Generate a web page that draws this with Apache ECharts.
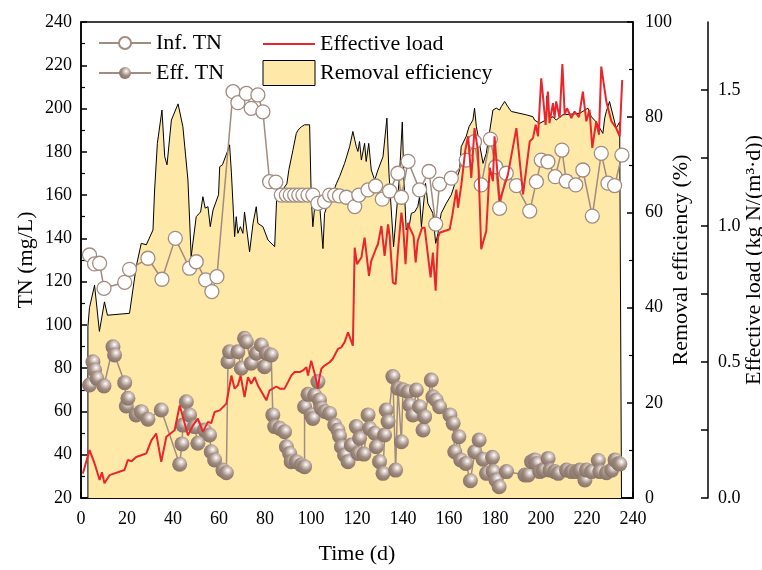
<!DOCTYPE html>
<html><head><meta charset="utf-8">
<script src="https://cdn.jsdelivr.net/npm/echarts@6/dist/echarts.min.js"></script>
<style>html,body{margin:0;padding:0;background:#fff}#c{width:762px;height:570px}</style>
</head><body><div id="c"></div>
<script>
// Influent TN (mg/L) [day, value]
const infTN = [[3.7,132.3],[5.9,128.2],[8.1,128.5],[10.0,116.9],[19.0,119.7],[21.1,125.7],[29.1,130.8],[35.2,121.1],[41.0,140],[47.2,126.2],[50.1,129.2],[54.2,120.8],[56.9,115.4],[59.1,122.3],[66.1,207.8],[68.2,202.7],[71.9,207.0],[74.0,200.1],[76.9,206.3],[79.1,198.5],[82.0,166.2],[84.7,166.0],[87.1,160],[89.3,160],[91.0,160],[92.9,160],[94.7,160],[96.5,160],[98.7,160],[100.8,160],[103.0,156.2],[105.9,157],[108.1,160],[110.3,160],[112.4,159.6],[115.4,159],[119.0,154.7],[120.8,160],[124.8,162.4],[128.1,164.2],[131.0,158.1],[134.2,161.9],[137.8,170.1],[139.3,159],[142.2,175.6],[147.2,162.4],[151.3,170.9],[154.2,146.6],[155.9,165.1],[161.0,167.8],[167.5,176.2],[171.1,184.7],[174.0,164.7],[178.0,185.9],[180.3,173.1],[182.0,153.9],[184.9,170.1],[189.3,164.4],[195.1,152.6],[198.0,166.2],[200.1,176.2],[203.0,175.4],[206.2,168.5],[209.1,180.8],[211.0,166.5],[215.1,164.7],[218.2,171.6],[222.3,150.3],[226.2,179.3],[229.1,165.5],[232.0,164.4],[235.2,178.5]];
// Effluent TN (mg/L)
const effTN = [[3.7,72.2],[5.2,83],[5.9,79.2],[6.9,75.3],[10.0,71.8],[13.9,89.9],[14.6,86.1],[19.0,73.3],[19.7,62.5],[20.4,66.1],[24.0,58.4],[26.2,59.9],[29.1,56.4],[34.9,60.7],[42.9,35.6],[43.9,45],[44.3,53.7],[45.8,64.5],[47.2,58.4],[49.4,53],[50.8,45.3],[53.7,51.4],[55.9,49.1],[56.6,41.4],[58.1,37.6],[61.7,32.9],[63.2,31.7],[63.9,83],[64.6,87.6],[68.2,87.6],[69.7,80],[71.1,93.8],[71.9,92.2],[74.0,82.3],[76.2,86.9],[78.4,90.7],[79.8,80.7],[80.6,86.9],[82.7,86.1],[83.4,58.4],[84.2,53],[86.4,52.2],[88.5,50.6],[89.3,43.7],[90.7,40.6],[91.4,36.8],[93.6,36.8],[95.8,35.3],[97.2,34.5],[97.2,62.2],[98.7,67.9],[100.1,58.4],[100.8,56.8],[101.6,67.6],[103.0,73.8],[103.7,65.3],[104.5,61.5],[106.0,60],[108.1,59.1],[110.3,53.7],[111.7,51.4],[112.4,48.7],[113.2,43.7],[114.6,39.9],[116.1,36.8],[117.5,44.5],[119.7,53],[120.4,40.6],[121.1,47.6],[123.0,40.3],[124.8,58.4],[125.5,52.2],[127.7,49.9],[128.4,43.7],[129.8,36.8],[131.3,31.4],[132.0,49.1],[132.7,60.7],[133.5,55.3],[135.6,76.1],[136.8,32.9],[137.8,70.7],[139.3,46],[140.0,70],[142.2,69.1],[142.9,63],[144.3,58.4],[145.8,69.9],[147.2,62.2],[148.7,51.4],[149.4,57.6],[152.3,74.5],[153.0,66.8],[154.4,65.3],[155.9,62.2],[160.4,58.4],[161.8,54.5],[162.5,41.4],[164.3,48.3],[165.1,37.6],[167.3,36],[169.3,28],[171.2,41.4],[173.1,46.8],[174.8,37.9],[176.3,31.4],[178.9,38.8],[179.2,32.2],[180.4,28.3],[181.8,25.2],[185.0,32.2],[193.0,30.6],[194.4,30.6],[195.9,36.8],[197.3,37.6],[198.1,36.0],[199.5,32.2],[201.0,32.9],[203.1,38.3],[203.9,32.9],[206.0,32.2],[207.5,31.4],[211.1,32.9],[213.3,32.2],[215.5,32.2],[216.9,32.9],[219.1,28.3],[219.8,32.9],[222.0,32.2],[224.9,37.3],[225.6,32.2],[228.5,31.7],[230.7,32.9],[232.2,37.6],[233.6,36],[234.3,35.7]];
// Removal efficiency (%)
const removal = [[3.0,0],[3.0,36],[3.7,40],[5.9,44.7],[8.0,35],[10.2,41.2],[11.5,38.4],[21.1,38.8],[24.0,48.6],[26.2,53.5],[28.4,53.2],[31.3,56.3],[32.0,64.7],[33.2,74.5],[35.2,81.5],[36.4,71.7],[37.4,70],[39.3,79.4],[40.0,79],[42.2,82.8],[44.3,78],[46.5,66.8],[47.9,50.7],[50.1,59.1],[52.0,60.1],[53.0,63.3],[54.0,60.9],[55.2,61.2],[56.2,57],[57.4,60.5],[59.8,63.7],[60.3,69.6],[61.5,70],[63.9,73.1],[64.6,74.2],[65.4,68.3],[66.8,54.9],[67.5,59.1],[68.2,55.6],[69.3,57],[70.4,55.6],[71.1,60.1],[73.3,51.7],[74.8,57.7],[76.2,61.2],[76.9,57.7],[79.1,57],[81.3,54.2],[84.2,52.8],[85.4,66.8],[86.5,64],[88.0,65],[89.5,66],[90.4,69],[92.1,73],[93.6,76.6],[94.4,77.3],[95.8,78],[97.2,78.4],[99.4,78.4],[100.1,63.3],[100.8,57],[101.6,61.2],[103.7,62],[105.2,52.4],[105.9,59.8],[107.5,62],[109.5,64],[111.0,66],[112.4,67.5],[114.6,70.3],[116.8,73.8],[118.2,77],[119.7,73.8],[120.4,72.8],[121.1,74.9],[121.9,71],[123.3,74.5],[124.0,70.7],[125.1,74.5],[126.2,68.9],[127.7,66.8],[129.1,68.9],[131.3,71.7],[133.0,79.8],[133.9,68.2],[135.9,52.8],[138.4,67.2],[139.7,79],[140.4,66.8],[141.4,56.3],[142.9,57.7],[143.6,59.8],[145.1,60.1],[146.4,61.2],[147.2,63.3],[148.0,57],[149.8,66.1],[150.8,61.9],[153.0,59.8],[154.2,53.5],[155.2,55.6],[156.6,59.8],[158.8,61.9],[161.0,63.7],[162.4,65.8],[164.6,68.9],[165.3,73.8],[167.5,76],[168.7,78],[170.4,79.4],[171.1,81.9],[171.9,78],[172.6,77.7],[174.8,70.3],[176.2,72.4],[179.1,81.5],[180.6,81.9],[182.0,81.5],[182.7,82.2],[184.2,83.3],[185.6,82.2],[187.1,81.2],[187.8,80.8],[193.6,80.5],[196.5,80.1],[197.2,79.4],[199.4,78.7],[202.4,79.5],[202.6,84.5],[203.0,82.9],[203.7,79.8],[205.2,80.1],[206.6,79.4],[209.5,80.5],[216.8,80.8],[220.4,81.9],[221.9,80.1],[224.0,79],[226.9,76.6],[227.7,79.8],[228.4,81.2],[229.8,83.3],[230.6,82.9],[232.0,79],[232.7,77.7],[234.2,79],[235.0,79.4],[235.0,0]];
// Effective load (kg N/(m3 d))
const load = [[0.8,0.09],[3.7,0.176],[5.9,0.127],[8.1,0.066],[9.1,0.095],[10.2,0.054],[12.4,0.084],[18.9,0.103],[20.4,0.14],[22.0,0.135],[24.0,0.151],[26.2,0.157],[28.4,0.164],[30.6,0.212],[32.7,0.237],[34.9,0.133],[37.1,0.225],[40.7,0.249],[42.9,0.34],[44.3,0.298],[46.5,0.231],[48.7,0.267],[50.8,0.292],[53.0,0.243],[55.2,0.28],[56.6,0.275],[58.1,0.316],[60.3,0.322],[63.2,0.347],[65.4,0.45],[66.8,0.402],[68.2,0.414],[69.4,0.45],[71.1,0.371],[72.6,0.444],[74.0,0.42],[75.5,0.444],[76.9,0.414],[80.6,0.359],[82.0,0.396],[83.4,0.402],[84.9,0.41],[86.4,0.402],[88.5,0.402],[90.0,0.426],[91.4,0.45],[92.9,0.463],[95.1,0.463],[96.5,0.469],[98.0,0.481],[98.7,0.45],[100.1,0.505],[100.8,0.505],[101.6,0.457],[103.0,0.402],[103.7,0.444],[104.5,0.475],[105.9,0.487],[108.1,0.499],[109.5,0.512],[111.7,0.548],[113.2,0.554],[114.6,0.573],[116.1,0.609],[118.2,0.56],[119.0,0.92],[120.0,0.86],[121.9,0.884],[123.3,0.957],[125.2,0.817],[126.2,0.872],[128.4,0.92],[129.1,0.933],[130.6,1.0],[132.0,0.89],[133.5,1.006],[134.2,0.963],[135.6,0.792],[136.8,0.786],[137.8,0.908],[139.3,1.049],[140.0,1.006],[141.1,0.86],[142.2,1.012],[142.9,0.994],[144.6,0.963],[145.5,0.866],[146.4,0.945],[148.3,0.994],[149.4,0.994],[152.0,0.811],[153.0,0.902],[154.2,0.762],[155.2,0.957],[155.9,0.975],[160.3,0.988],[161.4,1.037],[163.2,1.134],[163.9,1.067],[165.4,1.153],[167.1,1.28],[168.3,1.33],[169.7,1.177],[171.1,1.36],[172.6,1.275],[174.0,0.915],[176.2,0.982],[177.7,1.214],[179.1,1.165],[179.8,1.33],[182.0,1.092],[185.6,1.189],[189.3,1.36],[192.2,1.116],[195.1,1.311],[196.5,1.323],[197.7,1.372],[198.7,1.33],[200.1,1.543],[200.8,1.482],[202.0,1.372],[203.0,1.494],[203.7,1.378],[205.2,1.452],[205.9,1.397],[206.6,1.458],[208.1,1.397],[209.3,1.595],[210.3,1.409],[211.3,1.433],[213.2,1.397],[214.6,1.421],[216.5,1.40],[218.2,1.494],[219.7,1.385],[221.1,1.427],[222.3,1.287],[224.0,1.385],[225.2,1.336],[226.2,1.586],[228.4,1.458],[230.6,1.385],[232.7,1.36],[234.2,1.33],[235.3,1.537]];

const FONT = "'Liberation Serif','Times New Roman',serif";
const BROWN = '#a28b80';
const chart = echarts.init(document.getElementById('c'), null, {renderer:'canvas'});
const axisCommon = {
  axisLine:{show:true, onZero:false, lineStyle:{color:'#000', width:1.5}},
  axisTick:{show:true, inside:true, length:6, lineStyle:{color:'#000', width:1.5}},
  minorTick:{show:true, splitNumber:2, length:4, lineStyle:{color:'#000', width:1.2}},
  splitLine:{show:false},
  axisLabel:{color:'#000', fontSize:18, fontFamily:FONT},
  nameLocation:'middle',
  nameMoveOverlap:false,
  nameTextStyle:{color:'#000', fontSize:22, fontFamily:FONT}
};
const sphere = {type:'radial', x:0.6, y:0.35, r:0.7, colorStops:[
  {offset:0, color:'#ffffff'},{offset:0.2, color:'#ddd2cc'},{offset:0.55, color:'#a08b81'},{offset:1, color:'#846f65'}]};
chart.setOption({
  animation:false,
  backgroundColor:'#fff',
  grid:{left:81, right:129, top:22, bottom:72, outerBoundsMode:'none', containLabel:false,
        show:true, borderColor:'#000', borderWidth:1.5, backgroundColor:'rgba(0,0,0,0)'},
  legend:[
    {left:98, top:32, orient:'vertical', padding:0, itemWidth:52, itemHeight:15, itemGap:8,
     textStyle:{fontSize:22, fontFamily:FONT, color:'#000'},
     data:['Inf. TN','Eff. TN']},
    {left:262, top:33, orient:'vertical', padding:0, itemWidth:52, itemHeight:25, itemGap:5,
     textStyle:{fontSize:22, fontFamily:FONT, color:'#000'},
     data:[{name:'Effective load', itemStyle:{color:'rgba(0,0,0,0)', borderWidth:0, opacity:0}},
           {name:'Removal efficiency', icon:'rect', itemStyle:{color:'#fee9a9', borderColor:'#000', borderWidth:1}}]}
  ],
  xAxis:Object.assign({}, axisCommon, {type:'value', min:0, max:240, interval:20, name:'Time (d)', nameGap:45,
    axisLabel:Object.assign({}, axisCommon.axisLabel, {margin:12})}),
  yAxis:[
    Object.assign({}, axisCommon, {type:'value', position:'left', min:20, max:240, interval:20, name:'TN (mg/L)', nameGap:44,
      axisLabel:Object.assign({}, axisCommon.axisLabel, {margin:9})}),
    Object.assign({}, axisCommon, {type:'value', position:'right', min:0, max:100, interval:20, name:'Removal efficiency (%)', nameGap:37,
      axisLabel:Object.assign({}, axisCommon.axisLabel, {margin:12})}),
    Object.assign({}, axisCommon, {type:'value', position:'right', offset:75, min:0, max:1.75, interval:0.25, name:'Effective load (kg N/(m³·d))', nameGap:35,
      minorTick:{show:false},
      axisTick:{show:true, inside:true, length:7, lineStyle:{color:'#000', width:1.5}},
      axisLabel:Object.assign({}, axisCommon.axisLabel, {margin:10, showMaxLabel:false,
        formatter:function(v){const t=v*2; return (Math.abs(t-Math.round(t))<1e-6 && v<1.7)? v.toFixed(1):'';}})})
  ],
  series:[
    {name:'Removal efficiency', type:'line', yAxisIndex:1, data:removal, symbol:'none', showSymbol:false,
     lineStyle:{color:'#000', width:1}, itemStyle:{color:'#fee9a9'}, areaStyle:{color:'#fee9a9', opacity:1}, z:1},
    {name:'Inf. TN', type:'line', yAxisIndex:0, data:infTN, symbol:'circle', symbolSize:14, showSymbol:true,
     lineStyle:{color:BROWN, width:1.5}, itemStyle:{color:'#fff', borderColor:BROWN, borderWidth:1.3}, z:3},
    {name:'Eff. TN', type:'line', yAxisIndex:0, data:effTN, symbol:'circle', symbolSize:15, showSymbol:true,
     lineStyle:{color:BROWN, width:1.5}, itemStyle:{color:sphere, borderWidth:0}, z:4},
    {name:'Effective load', type:'line', yAxisIndex:2, data:load, symbol:'none', showSymbol:false,
     lineStyle:{color:'#e8262b', width:2}, itemStyle:{color:'#e8262b'}, z:5}
  ]
});
</script></body></html>
